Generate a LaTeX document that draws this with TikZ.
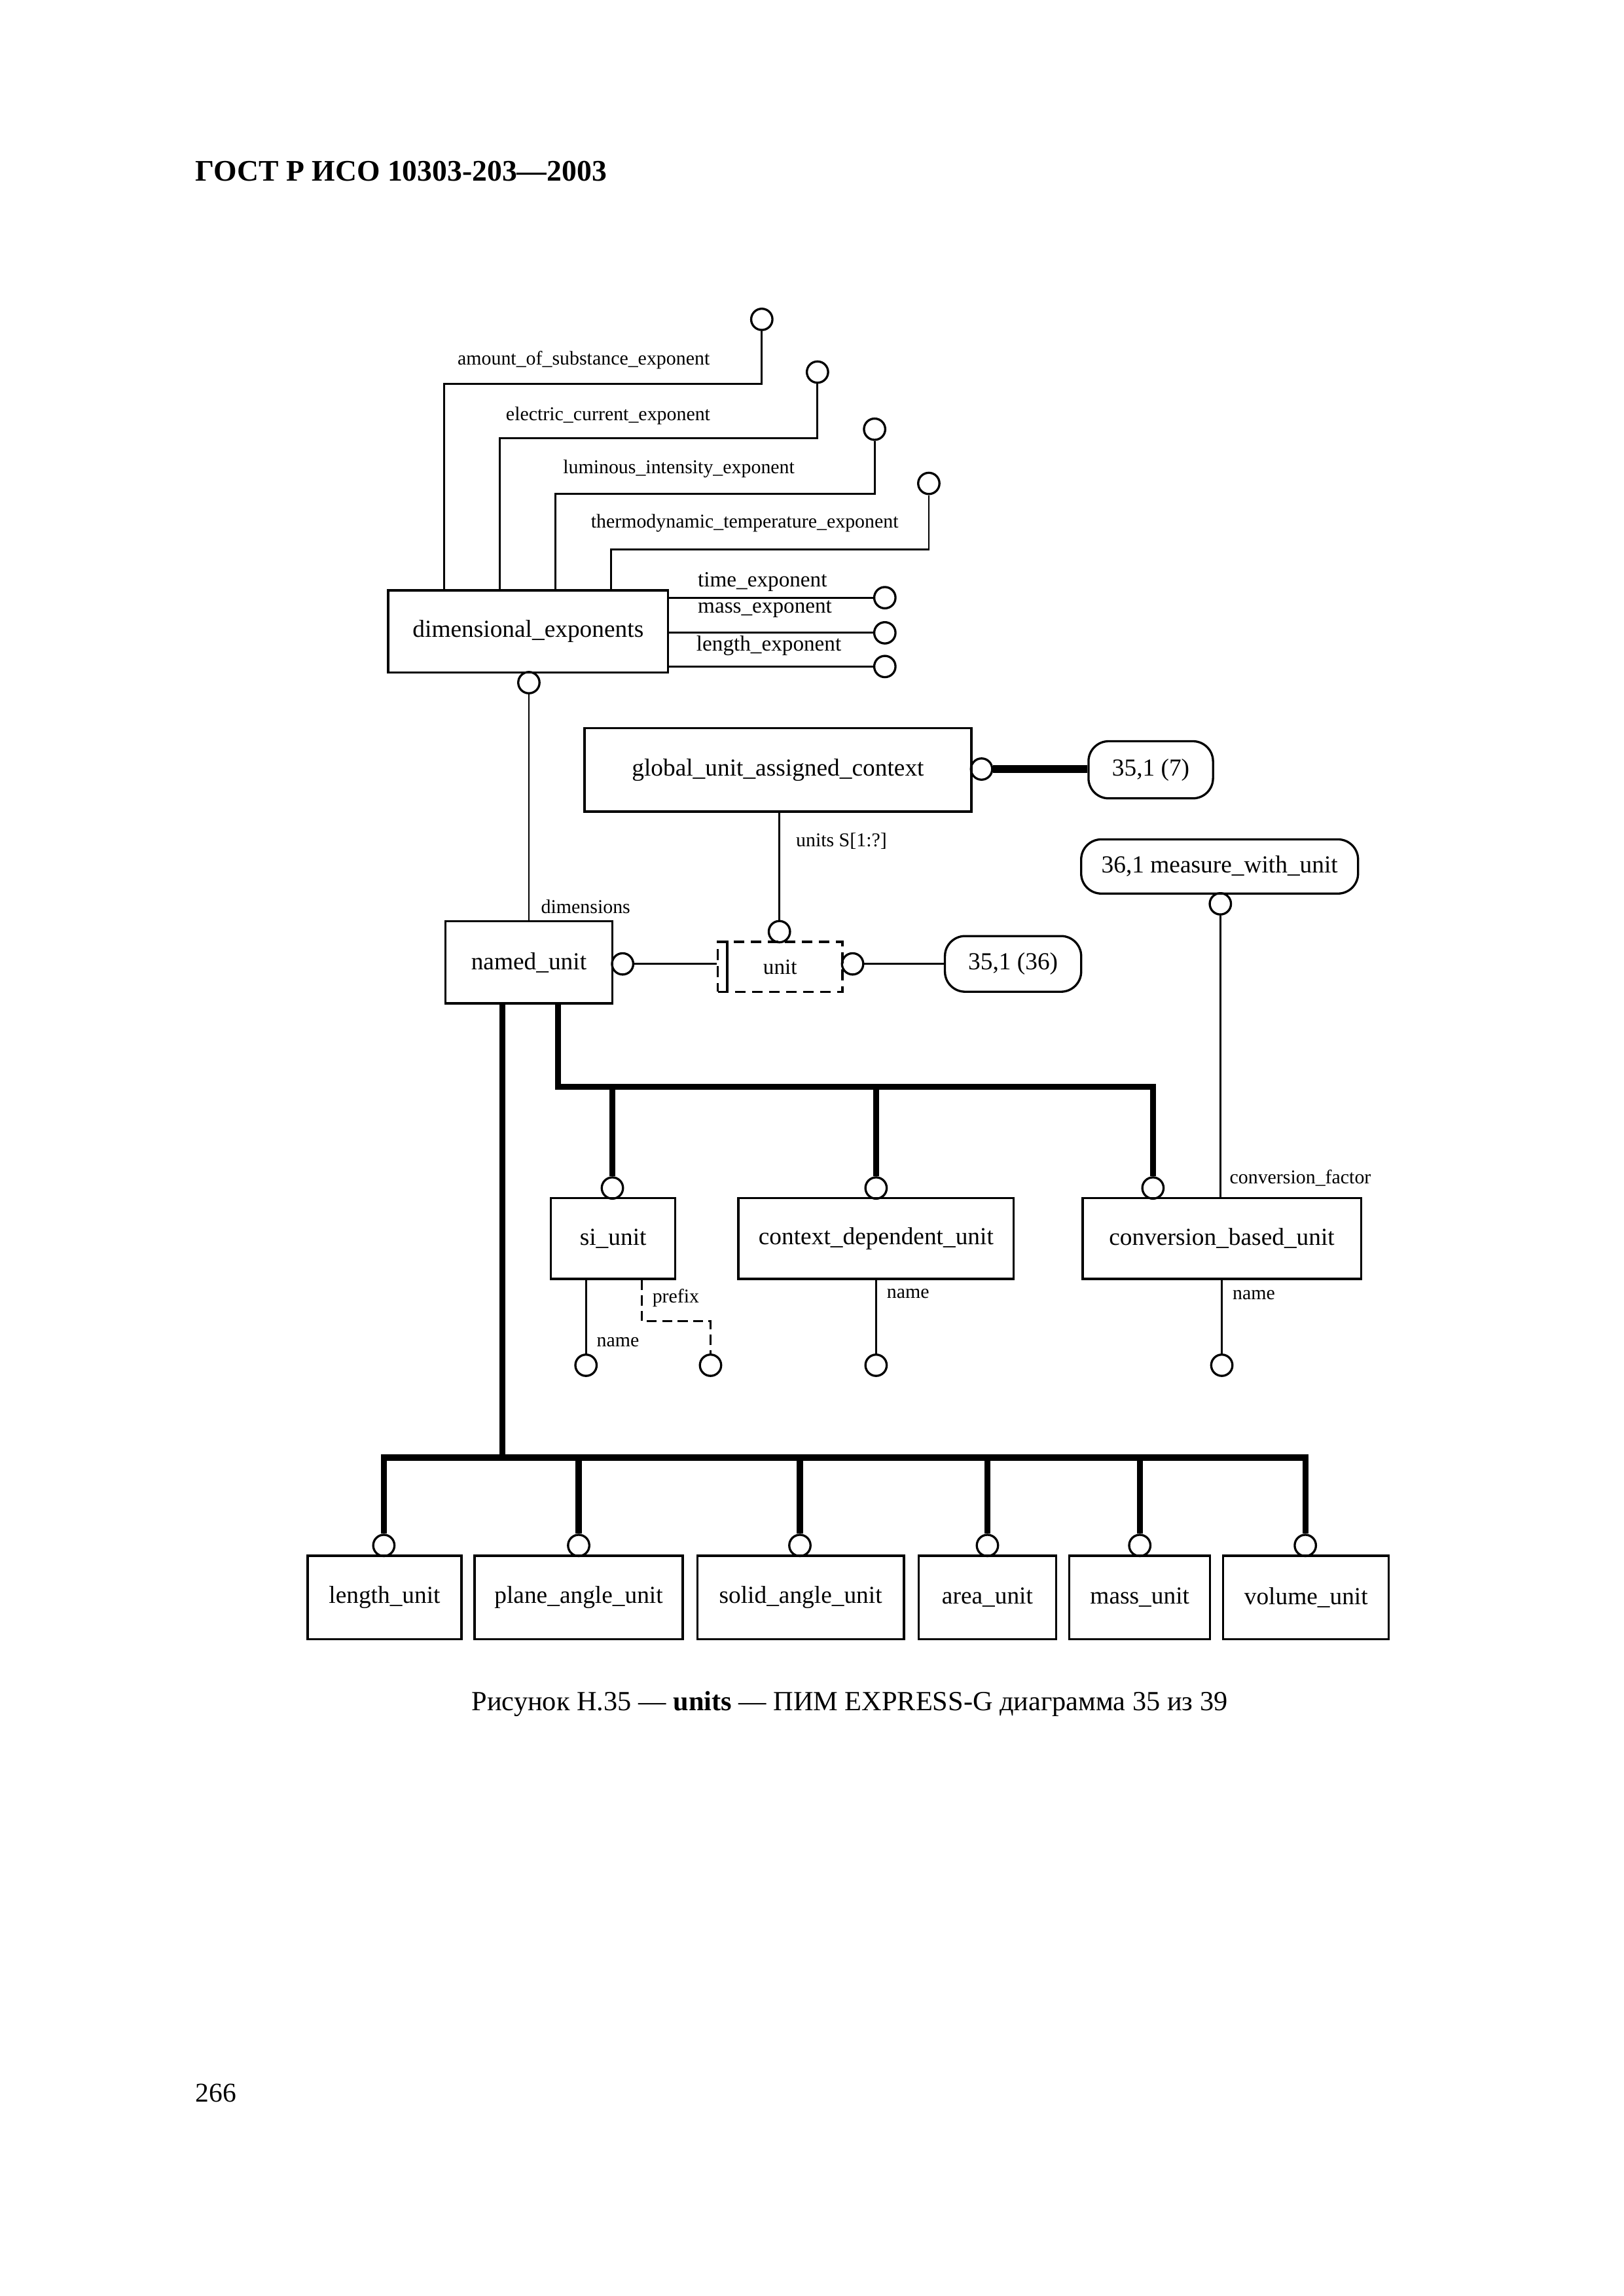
\documentclass[tikz,border=0pt]{standalone}
\usepackage{fontspec}
\setmainfont{Liberation Serif}
\def\U{0.18948mm}
\begin{document}
\begin{tikzpicture}[x=0.18948mm,y=-0.18948mm,
  sz/.style 2 args={minimum width=#1*\U,minimum height=#2*\U},
  ent/.style={draw,line width=0.8pt,inner sep=0pt,font=\fontsize{9}{10}\selectfont},
  refbox/.style={draw,line width=0.8pt,inner sep=0pt,rounded corners=2.6mm,font=\fontsize{9}{10}\selectfont},
  selbox/.style={draw,line width=0.8pt,inner sep=0pt,dash pattern=on 1.4mm off 0.8mm,font=\fontsize{8}{9}\selectfont},
  lbl/.style={font=\fontsize{7.2}{8}\selectfont,inner sep=0pt,anchor=west},
  lblb/.style={font=\fontsize{8}{9}\selectfont,inner sep=0pt,anchor=west},
  circ/.style={draw,circle,line width=0.8pt,minimum size=2.75mm,inner sep=0pt},
  thinl/.style={line width=0.7pt},
  bus/.style={line width=2.2pt},
  fat/.style={line width=2.8pt}]
\useasboundingbox (0,0) rectangle (1108.3,1567.4);

% header, caption, page number
\node[anchor=west,inner sep=0pt,font=\fontsize{11}{12}\selectfont\bfseries] (hdr) at (133,117) {ГОСТ Р ИСО 10303-203—2003};
\node[inner sep=0pt,font=\fontsize{10.2}{12}\selectfont] (cap) at (580,1163) {Рисунок Н.35 — \textbf{units} — ПИМ EXPRESS-G диаграмма 35 из 39};
\node[anchor=west,inner sep=0pt,font=\fontsize{10}{12}\selectfont] (pg) at (133,1429) {266};

% entity boxes
\node[ent,sz={191}{56}] (dim) at (360.5,431) {dimensional\_exponents};
\node[ent,sz={264}{57}] (glob) at (531,525.5) {global\_unit\_assigned\_context};
\node[ent,sz={114}{56}] (named) at (361,657) {named\_unit};
\node[selbox,sz={85}{34}] (unit) at (532.5,660) {unit};
\node[refbox,sz={85}{39}] (r7) at (785.5,525.5) {35,1 (7)};
\node[refbox,sz={93}{38}] (r36) at (691.5,658) {35,1 (36)};
\node[refbox,sz={189}{37}] (mwu) at (832.5,591.5) {36,1 measure\_with\_unit};
\node[ent,sz={85}{55}] (si) at (418.5,845.5) {si\_unit};
\node[ent,sz={188}{55}] (cdu) at (598,845.5) {context\_dependent\_unit};
\node[ent,sz={190}{55}] (cbu) at (834,845.5) {conversion\_based\_unit};
\node[ent,sz={105}{57}] (lu) at (262.5,1090.5) {length\_unit};
\node[ent,sz={142}{57}] (pau) at (395,1090.5) {plane\_angle\_unit};
\node[ent,sz={141}{57}] (sau) at (546.5,1090.5) {solid\_angle\_unit};
\node[ent,sz={94}{57}] (au) at (674,1090.5) {area\_unit};
\node[ent,sz={96}{57}] (mu) at (778,1090.5) {mass\_unit};
\node[ent,sz={113}{57}] (vu) at (891.5,1090.5) {volume\_unit};
\draw[line width=0.8pt] ([xshift=1.35mm]unit.north west) -- ([xshift=1.35mm]unit.south west);

% circles
\node[circ] (ca) at (520,218) {};
\node[circ] (ce) at (558,254) {};
\node[circ] (cl) at (597,293) {};
\node[circ] (ct) at (634,330) {};
\node[circ] (ctime) at (604,408) {};
\node[circ] (cmass) at (604,432) {};
\node[circ] (clen) at (604,455) {};
\node[circ] (cdim) at (361,466) {};
\node[circ] (cnu) at (425,658) {};
\node[circ] (cunT) at (532,636) {};
\node[circ] (cunR) at (582,658) {};
\node[circ] (cglob) at (670,525) {};
\node[circ] (cmwu) at (833,617) {};
\node[circ] (csi) at (418,811) {};
\node[circ] (ccdu) at (598,811) {};
\node[circ] (ccbu) at (787,811) {};
\node[circ] (csin) at (400,932) {};
\node[circ] (csip) at (485,932) {};
\node[circ] (ccdun) at (598,932) {};
\node[circ] (ccbun) at (834,932) {};
\node[circ] (clu) at (262,1055) {};
\node[circ] (cpau) at (395,1055) {};
\node[circ] (csau) at (546,1055) {};
\node[circ] (cau) at (674,1055) {};
\node[circ] (cmu) at (778,1055) {};
\node[circ] (cvu) at (891,1055) {};

% bend points
\coordinate (a1) at (303,262);
\coordinate (e1) at (341,299);
\coordinate (l1) at (379,337);
\coordinate (t1) at (417,375);
\coordinate (p1) at (438,902);
\coordinate (k1) at (343,995);
\coordinate (k2) at (381,742);
\coordinate (bR) at (891,995);

% attribute connectors
\draw[thinl] (ca.south) |- (a1) -- (a1 |- dim.north);
\draw[thinl] (ce.south) |- (e1) -- (e1 |- dim.north);
\draw[thinl] (cl.south) |- (l1) -- (l1 |- dim.north);
\draw[thinl] (ct.south) |- (t1) -- (t1 |- dim.north);
\draw[thinl] (ctime.west) -- (ctime.west -| dim.east);
\draw[thinl] (cmass.west) -- (cmass.west -| dim.east);
\draw[thinl] (clen.west) -- (clen.west -| dim.east);
\draw[thinl] (cdim.south) -- (cdim.south |- named.north);
\draw[thinl] (cnu.east) -- (cnu.east -| unit.west);
\draw[thinl] (cunR.east) -- (cunR.east -| r36.west);
\draw[thinl] (cunT.north) -- (cunT.north |- glob.south);
\draw[fat] (cglob.east) -- (cglob.east -| r7.west);
\draw[thinl] (cmwu.south) -- (cmwu.south |- cbu.north);
\draw[thinl] (csin.north |- si.south) -- (csin.north);
\draw[thinl,dash pattern=on 1.3mm off 0.7mm] (p1 |- si.south) -- (p1) -| (csip.north);
\draw[thinl] (ccdun.north |- cdu.south) -- (ccdun.north);
\draw[thinl] (ccbun.north |- cbu.south) -- (ccbun.north);

% subtype trees
\draw[bus] (k2 |- named.south) -- (k2) -| (ccbu.north);
\draw[bus] (csi.north) -- (csi.north |- k2);
\draw[bus] (ccdu.north) -- (ccdu.north |- k2);
\draw[bus] (k1 |- named.south) -- (k1);
\draw[bus] (clu.north) |- (bR) -- (cvu.north);
\draw[bus] (cpau.north) -- (cpau.north |- k1);
\draw[bus] (csau.north) -- (csau.north |- k1);
\draw[bus] (cau.north) -- (cau.north |- k1);
\draw[bus] (cmu.north) -- (cmu.north |- k1);

% labels
\node[lbl] (la) at (312,246) {amount\_of\_substance\_exponent};
\node[lbl] (le) at (345,284) {electric\_current\_exponent};
\node[lbl] (ll) at (384,320) {luminous\_intensity\_exponent};
\node[lbl] (lt) at (403,357) {thermodynamic\_temperature\_exponent};
\node[lblb] (ltime) at (476,397) {time\_exponent};
\node[lblb] (lmass) at (476,416) {mass\_exponent};
\node[lblb] (llen) at (475,441) {length\_exponent};
\node[lbl] (ldim) at (369,619) {dimensions};
\node[lbl] (lunits) at (543,574) {units S[1:?]};
\node[lbl] (lcf) at (839,804) {conversion\_factor};
\node[lbl] (lpre) at (445,886) {prefix};
\node[lbl] (lsin) at (407,916) {name};
\node[lbl] (lcdun) at (605,883) {name};
\node[lbl] (lcbun) at (841,884) {name};
\end{tikzpicture}
\end{document}
